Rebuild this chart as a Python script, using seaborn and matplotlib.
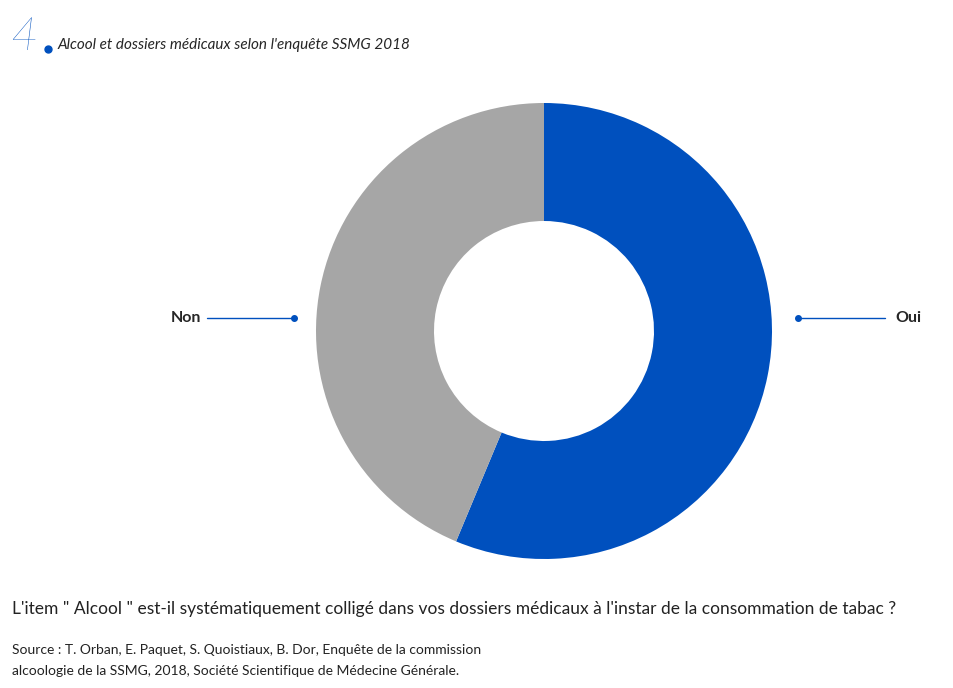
import matplotlib
matplotlib.use("Agg")
import matplotlib.pyplot as plt
import seaborn as sns

labels = ["Oui", "Non"]
values = [56.3, 43.7]
colors = ["#0050be", "#a6a6a6"]

sns.set_style("white")
plt.rcParams["font.family"] = "Lato"

W, H = 954, 688
fig = plt.figure(figsize=(W / 100, H / 100), dpi=100)

# donut, centre (544, 331) px, outer radius 228 px
ax = fig.add_axes([(544 - 228) / W, (H - 331 - 228) / H, 456 / W, 456 / H])
ax.pie(values, colors=colors, startangle=90, counterclock=False,
       radius=1, wedgeprops=dict(width=1 - 110 / 228, edgecolor="none"))
ax.set_xlim(-1, 1)
ax.set_ylim(-1, 1)
ax.set_aspect("equal")
ax.axis("off")


def fx(px):
    return px / W


def fy(py):
    return 1 - py / H


# leader lines
y = fy(318)
for x0, x1, dot, txt, tx, ha in [(798, 885, 798, "Oui", 895, "left"),
                                 (207, 294, 294, "Non", 201, "right")]:
    fig.add_artist(plt.Line2D([fx(x0), fx(x1)], [y, y], color="#0050be", lw=1))
    fig.add_artist(plt.Line2D([fx(dot)], [y], marker="o", ms=4, color="#0050be"))
    fig.text(fx(tx), y, txt, ha=ha, va="center", fontsize=11.5, fontweight="bold")

# title
fig.text(fx(10), fy(50), "4", fontsize=34, color="#0050be", va="baseline", style="italic",
         fontweight="light")
fig.add_artist(plt.Line2D([fx(48)], [fy(49)], marker="o", ms=5, color="#0050be"))
fig.text(fx(58), fy(45), "Alcool et dossiers médicaux selon l'enquête SSMG 2018",
         fontsize=11, style="italic", va="center")

fig.text(fx(12), fy(609), "L'item \" Alcool \" est-il systématiquement colligé dans vos dossiers "
         "médicaux à l'instar de la consommation de tabac ?", fontsize=12.5, va="center",
         color="#222222")
fig.text(fx(12), fy(650), "Source : T. Orban, E. Paquet, S. Quoistiaux, B. Dor, Enquête de la commission",
         fontsize=10, va="center", color="#222222")
fig.text(fx(12), fy(671), "alcoologie de la SSMG, 2018, Société Scientifique de Médecine Générale.",
         fontsize=10, va="center", color="#222222")

fig.savefig("out.png", dpi=100)
